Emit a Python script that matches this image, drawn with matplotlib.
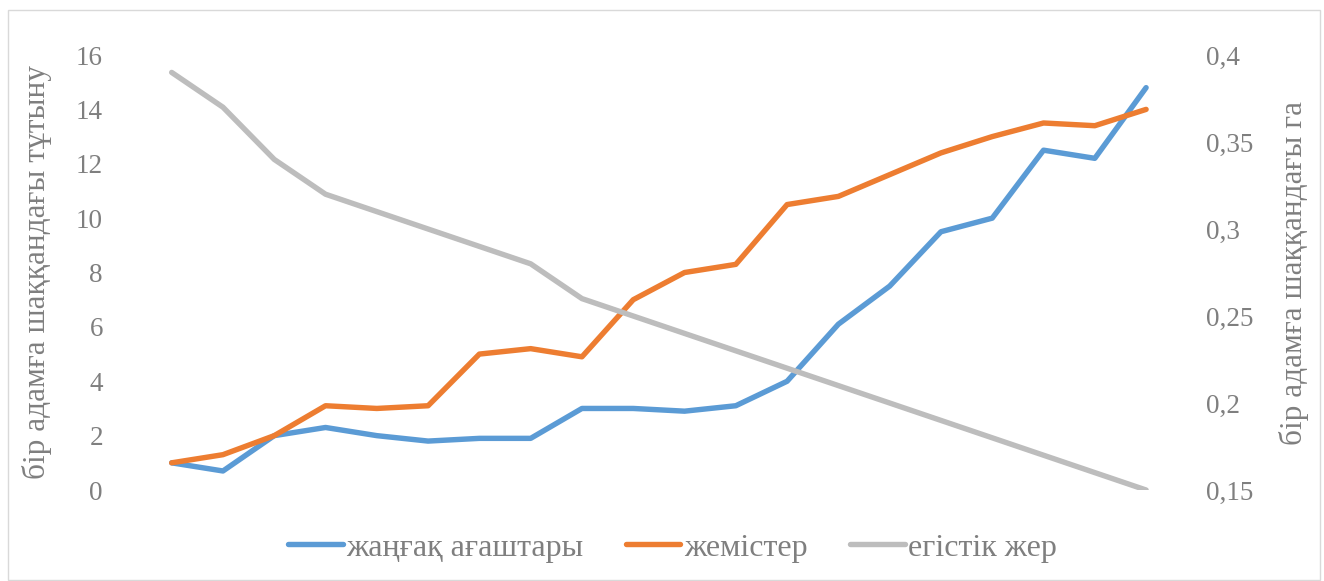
import matplotlib.pyplot as plt
from matplotlib.patches import Rectangle

plt.rcParams['font.family'] = ['Liberation Serif', 'DejaVu Serif']

# данные
years = list(range(20))
nut_trees = [1.0, 0.7, 2.0, 2.3, 2.0, 1.8, 1.9, 1.9, 3.0, 3.0,
             2.9, 3.1, 4.0, 6.1, 7.5, 9.5, 10.0, 12.5, 12.2, 14.8]
fruits = [1.0, 1.3, 2.0, 3.1, 3.0, 3.1, 5.0, 5.2, 4.9, 7.0,
          8.0, 8.3, 10.5, 10.8, 11.6, 12.4, 13.0, 13.5, 13.4, 14.0]
arable = [0.39, 0.37, 0.34, 0.32, 0.31, 0.30, 0.29, 0.28, 0.26, 0.25,
          0.24, 0.23, 0.22, 0.21, 0.20, 0.19, 0.18, 0.17, 0.16, 0.15]
left_ticks = [0, 2, 4, 6, 8, 10, 12, 14, 16]
right_ticks = [0.15, 0.2, 0.25, 0.3, 0.35, 0.4]
right_labels = ["0,15", "0,2", "0,25", "0,3", "0,35", "0,4"]

txt = '#7F7F7F'
fig = plt.figure(figsize=(13.24, 5.81), dpi=100)
fig.patches.append(Rectangle((0.006, 0.002), 0.991, 0.981, transform=fig.transFigure,
                             fill=False, edgecolor='#D9D9D9', lw=1))
ax = fig.add_axes([0.1103, 0.1566, 0.7747, 0.7487])
ax2 = ax.twinx()

l1, = ax.plot(years, nut_trees, color='#5B9BD5', lw=3.9, solid_capstyle='round',
              solid_joinstyle='round', label='жаңғақ ағаштары')
l2, = ax.plot(years, fruits, color='#ED7D31', lw=3.9, solid_capstyle='round',
              solid_joinstyle='round', label='жемістер')
l3, = ax2.plot(years, arable, color='#BDBDBD', lw=3.9, solid_capstyle='round',
               solid_joinstyle='round', label='егістік жер')

ax.set_xlim(-0.5, 19.5)
ax.set_ylim(0, 16)
ax2.set_ylim(0.15, 0.4)
ax.set_yticks(left_ticks)
ax2.set_yticks(right_ticks)
ax2.set_yticklabels(right_labels)
ax.set_xticks([])

for a in (ax, ax2):
    for s in a.spines.values():
        s.set_visible(False)
    a.tick_params(axis='y', length=0, labelsize=19.5, labelcolor=txt)
ax.tick_params(axis='y', pad=31)
ax2.tick_params(axis='y', pad=25)

ax.set_ylabel('бір адамға шаққандағы тұтыну', fontsize=22.5, color=txt)
ax2.set_ylabel('бір адамға шаққандағы га', fontsize=22.5, color=txt)
ax.yaxis.set_label_coords(-0.0916, 0.5)
ax2.yaxis.set_label_coords(1.105, 0.5)

leg = fig.legend(handles=[l1, l2, l3], loc='center', bbox_to_anchor=(0.508, 0.057),
                 ncol=3, frameon=False, fontsize=23, handlelength=1.7,
                 handletextpad=0.1, columnspacing=1.35)
for t in leg.get_texts():
    t.set_color(txt)

fig.savefig('out.png', dpi=100)
